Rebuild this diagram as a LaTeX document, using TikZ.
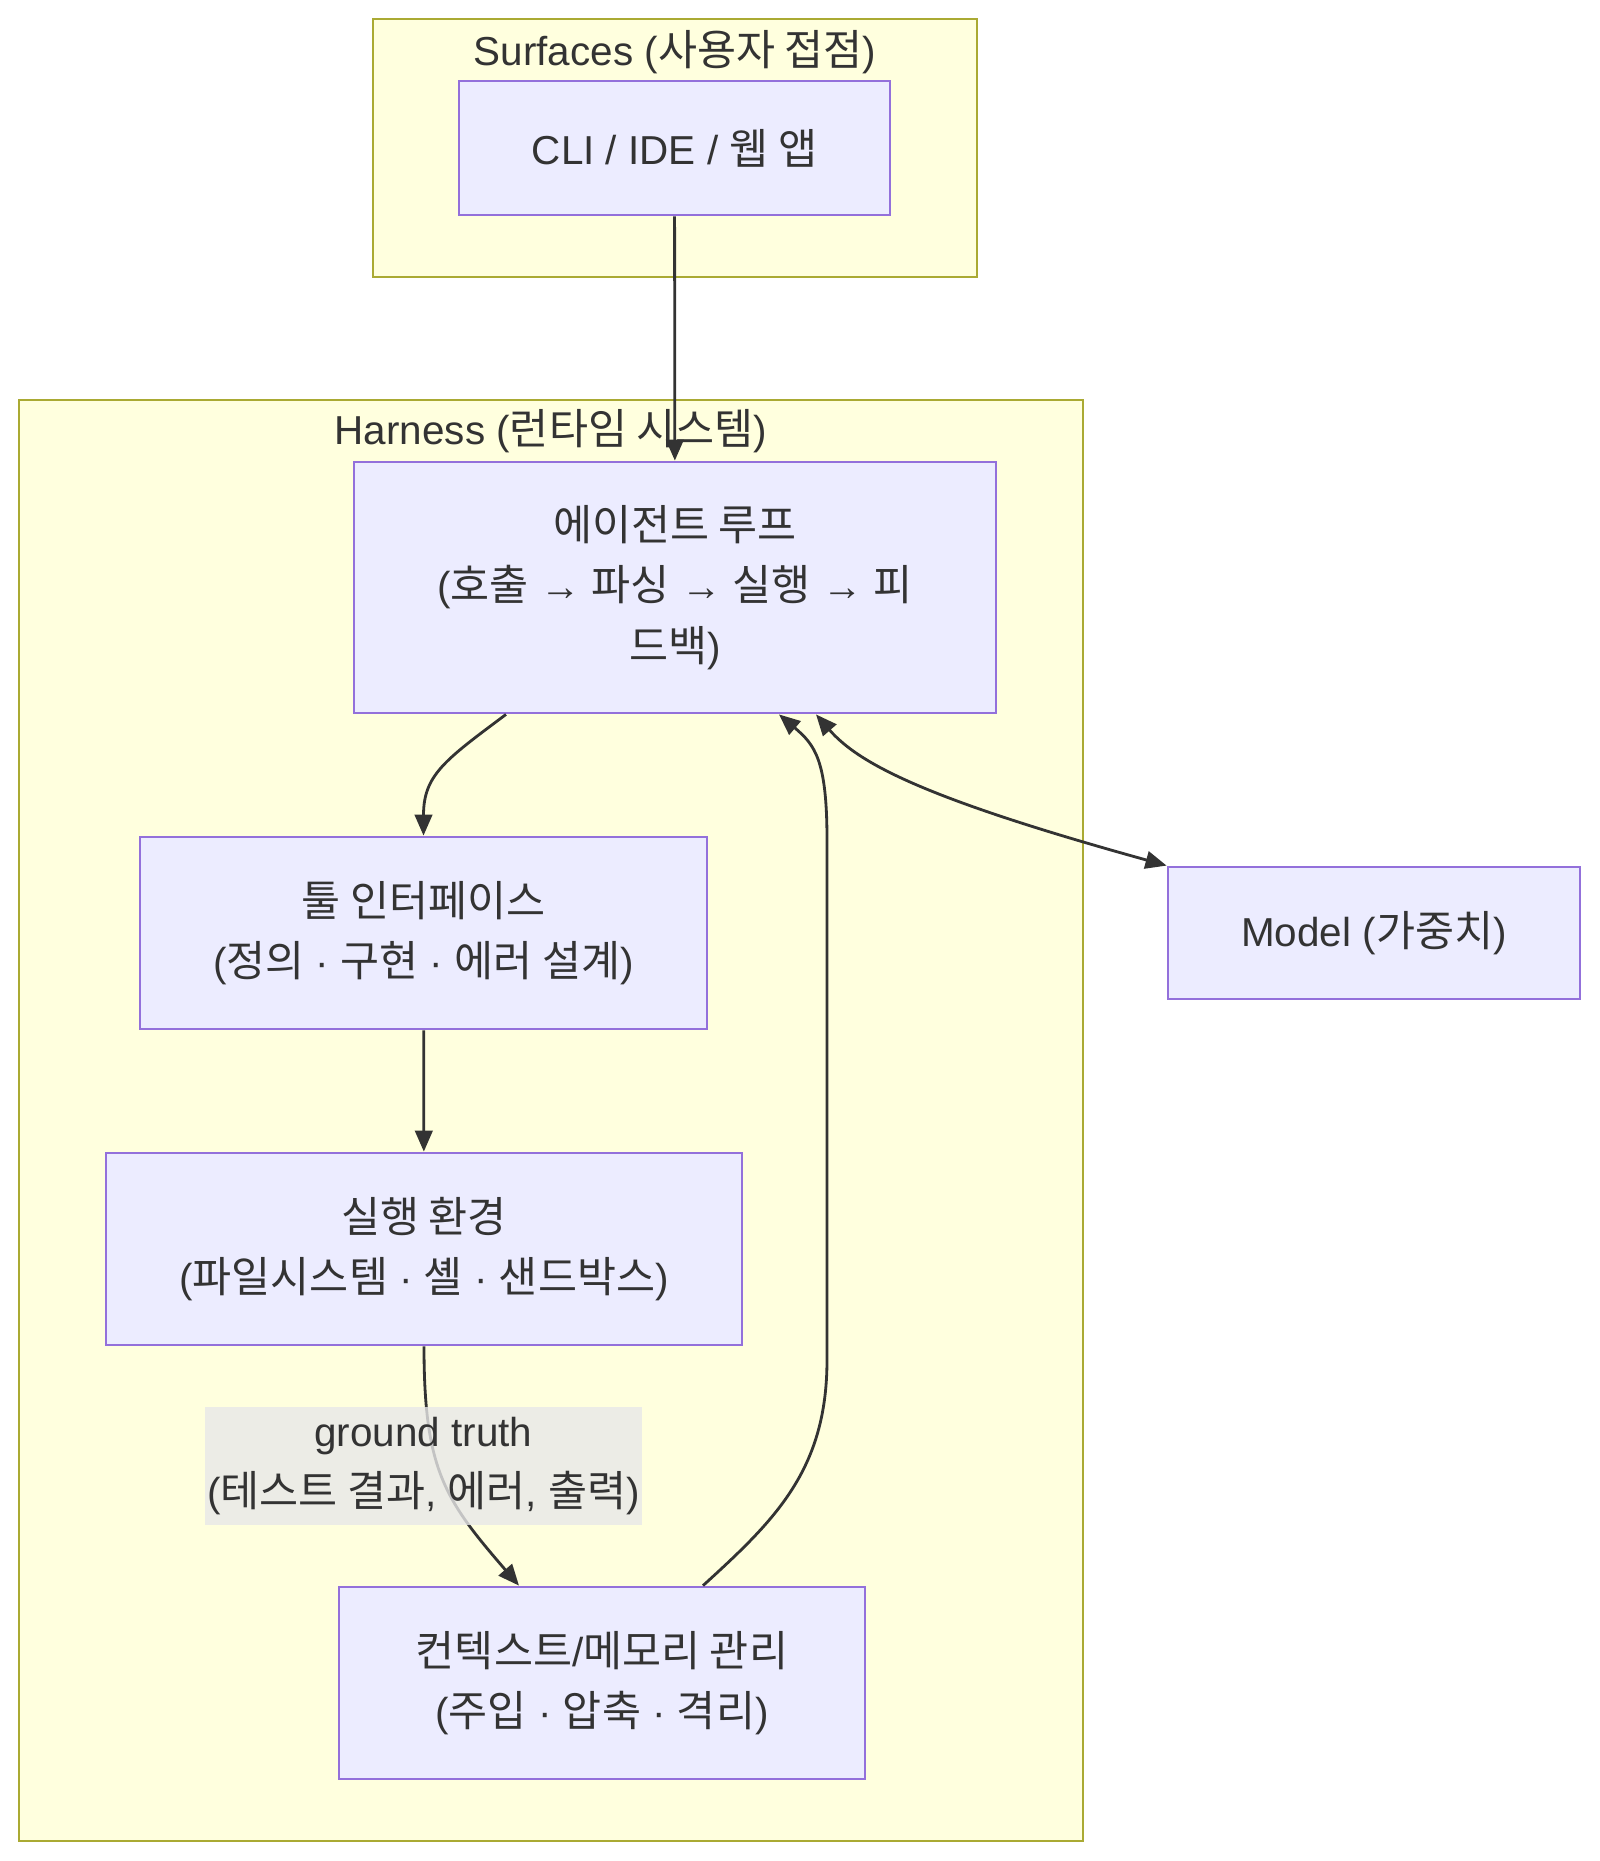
\documentclass[tikz,border=0pt]{standalone}
\usepackage{fontspec}
\setmainfont{Liberation Sans}
\newfontfamily\hangul[Scale=1.05]{Noto Sans CJK KR}
\newcommand{\ko}[1]{{\hangul #1}}
\usetikzlibrary{arrows.meta}
\definecolor{clusterfill}{HTML}{FFFFDE}
\definecolor{clusterline}{HTML}{AAAA33}
\definecolor{boxfill}{HTML}{ECECFF}
\definecolor{boxline}{HTML}{9370DB}
\definecolor{ink}{HTML}{333333}
\definecolor{labelfill}{HTML}{E8E8E8}
\begin{document}
\begin{tikzpicture}[
    font=\fontsize{11.5pt}{17.2pt}\selectfont, text=ink,
    cluster/.style={draw=clusterline, fill=clusterfill, line width=0.8pt, inner sep=0pt},
    box/.style={draw=boxline, fill=boxfill, line width=0.8pt, align=center, inner sep=0pt},
    edge/.style={draw=ink, line width=0.8pt, -{Triangle[length=6pt,width=5pt]}},
    tag/.style={fill=labelfill, fill opacity=0.8, text opacity=1, align=center, inner sep=0pt, minimum width=4.37cm, minimum height=1.18cm},
]
    \useasboundingbox (0,0) rectangle (16,-18.61);

    % Clusters
    \node[cluster, minimum width=6.04cm, minimum height=2.58cm] (surfaces) at (6.75,-1.48) {};
    \node (surfacestitle) at (6.75,-0.52) {Surfaces (\ko{사용자 접점})};
    \node[cluster, minimum width=10.64cm, minimum height=14.41cm] (harness) at (5.51,-11.205) {};
    \node (harnesstitle) at (5.51,-4.31) {Harness (\ko{런타임 시스템})};

    % Nodes
    \node[box, minimum width=4.31cm, minimum height=1.34cm] (cli) at (6.745,-1.48) {CLI / IDE / \ko{웹 앱}};
    \node[box, minimum width=6.42cm, minimum height=2.51cm] (agent) at (6.75,-5.875) {\ko{에이전트 루프}\\(\ko{호출} → \ko{파싱} → \ko{실행} → \ko{피}\\\ko{드백})};
    \node[box, minimum width=5.67cm, minimum height=1.92cm] (tool) at (4.235,-9.33) {\ko{툴 인터페이스}\\(\ko{정의} · \ko{구현} · \ko{에러 설계})};
    \node[box, minimum width=6.36cm, minimum height=1.92cm] (exec) at (4.24,-12.49) {\ko{실행 환경}\\(\ko{파일시스템} · \ko{셸} · \ko{샌드박스})};
    \node[box, minimum width=5.26cm, minimum height=1.92cm] (ctx) at (6.02,-16.83) {\ko{컨텍스트}/\ko{메모리 관리}\\(\ko{주입} · \ko{압축} · \ko{격리})};
    \node[box, minimum width=4.12cm, minimum height=1.32cm] (model) at (13.74,-9.33) {Model (\ko{가중치})};

    % Edges
    \draw[edge] (cli) -- (agent);
    \draw[edge] ([xshift=-1.69cm]agent.south) .. controls (4.45,-7.6) and (4.235,-7.75) .. (tool.north);
    \draw[edge] (tool) -- (exec);
    \draw[edge] (exec.south) .. controls (4.24,-14.7) and (4.45,-15.0) .. ([xshift=-0.83cm]ctx.north);
    \draw[edge] ([xshift=1.01cm]ctx.north) .. controls (7.75,-15.2) and (8.27,-14.7) .. (8.27,-13.6)
        -- (8.27,-8.4) .. controls (8.27,-7.6) and (8.15,-7.45) .. ([xshift=1.04cm]agent.south);
    \draw[edge, {Triangle[length=6pt,width=5pt]}-{Triangle[length=6pt,width=5pt]}] ([xshift=1.41cm]agent.south) .. controls (8.6,-7.65) and (9.3,-8.0) .. (model.north west);

    % Edge label
    \node[tag] (truth) at (4.235,-14.66) {ground truth\\(\ko{테스트 결과}, \ko{에러}, \ko{출력})};
\end{tikzpicture}
\end{document}
